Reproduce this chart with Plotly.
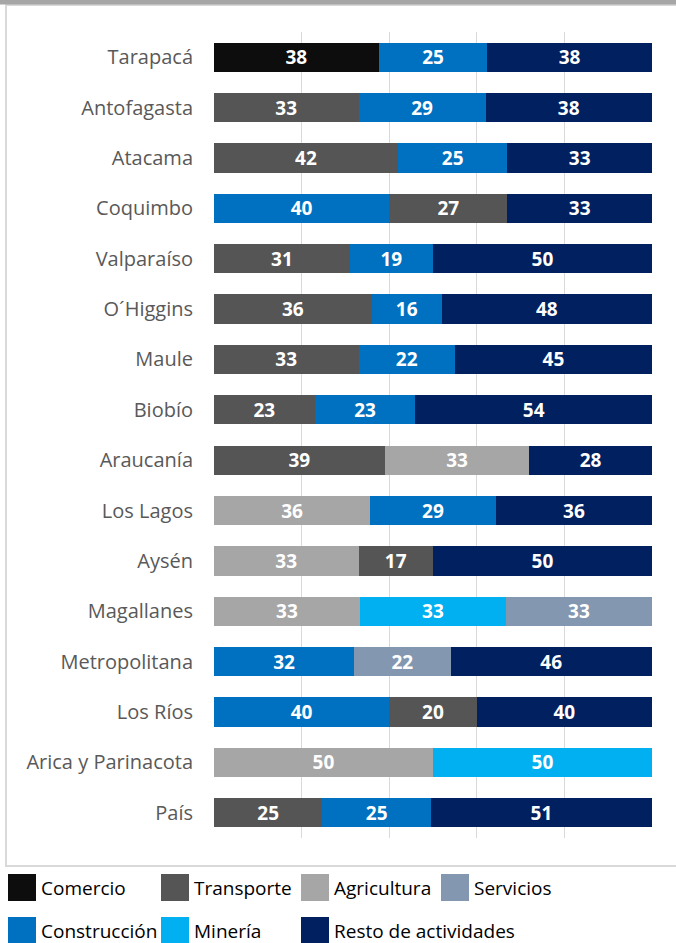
import plotly.graph_objects as go

regions = ["Tarapacá", "Antofagasta", "Atacama", "Coquimbo", "Valparaíso", "O´Higgins",
           "Maule", "Biobío", "Araucanía", "Los Lagos", "Aysén", "Magallanes",
           "Metropolitana", "Los Ríos", "Arica y Parinacota", "País"]

first_cat = ["Comercio", "Transporte", "Transporte", "Construcción", "Transporte", "Transporte",
             "Transporte", "Transporte", "Transporte", "Agricultura", "Agricultura", "Agricultura",
             "Construcción", "Construcción", "Agricultura", "Transporte"]
first_val = [38, 33, 42, 40, 31, 36, 33, 23, 39, 36, 33, 33, 32, 40, 50, 25]

second_cat = ["Construcción", "Construcción", "Construcción", "Transporte", "Construcción", "Construcción",
              "Construcción", "Construcción", "Agricultura", "Construcción", "Transporte", "Minería",
              "Servicios", "Transporte", "Minería", "Construcción"]
second_val = [25, 29, 25, 27, 19, 16, 22, 23, 33, 29, 17, 33, 22, 20, 50, 25]

third_cat = ["Resto de actividades"] * 11 + ["Servicios"] + ["Resto de actividades"] * 2 + [None, "Resto de actividades"]
third_val = [38, 38, 33, 33, 50, 48, 45, 54, 28, 36, 50, 33, 46, 40, None, 51]

legend_order = ["Comercio", "Transporte", "Agricultura", "Servicios",
                "Construcción", "Minería", "Resto de actividades"]
colors = {
    "Comercio": "#0d0d0d",
    "Transporte": "#555555",
    "Agricultura": "#a6a6a6",
    "Servicios": "#8497b0",
    "Construcción": "#0070c0",
    "Minería": "#00b0f0",
    "Resto de actividades": "#002060",
}

W, H = 676, 943
L, R, T, B = 214, 24, 32, 105
PW = W - L - R
PH = H - T - B


def px(x):
    return (x - L) / PW


def py(y):
    return (H - B - y) / PH


fig = go.Figure()
for cats, vals in [(first_cat, first_val), (second_cat, second_val), (third_cat, third_val)]:
    for cat in legend_order:
        xs, ys = [], []
        for reg, c, v in zip(regions, cats, vals):
            if c == cat and v is not None:
                xs.append(v)
                ys.append(reg)
        if not xs:
            continue
        fig.add_trace(go.Bar(
            x=xs, y=ys, orientation="h", name=cat,
            marker=dict(color=colors[cat], line=dict(width=0)),
            text=[str(v) for v in xs], texttemplate="%{text}",
            textposition="inside", insidetextanchor="middle", textangle=0,
            constraintext="none",
            textfont=dict(family="Open Sans", size=19, color="white", weight="bold"),
            showlegend=False, hoverinfo="skip",
        ))

fig.update_layout(
    width=W, height=H,
    margin=dict(l=L, r=R, t=T, b=B),
    barmode="stack", barnorm="percent", bargap=0.42,
    plot_bgcolor="white", paper_bgcolor="white",
    font=dict(family="Open Sans", color="#595959"),
    xaxis=dict(range=[0, 100], dtick=20, showgrid=True, gridcolor="#d9d9d9", gridwidth=1,
               showticklabels=False, zeroline=False, showline=False, fixedrange=True),
    yaxis=dict(categoryorder="array", categoryarray=regions, autorange="reversed",
               showgrid=False, zeroline=False, showline=False, ticks="",
               tickfont=dict(family="Open Sans", size=20, color="#595959"),
               ticklabelstandoff=20),
)

shapes = []
annotations = []
# outer frame and top band
shapes.append(dict(type="rect", xref="paper", yref="paper", x0=px(6), x1=px(W + 10),
                   y0=py(866), y1=py(5), line=dict(color="#d9d9d9", width=2), fillcolor="rgba(0,0,0,0)", layer="below"))
shapes.append(dict(type="rect", xref="paper", yref="paper", x0=px(-5), x1=px(W + 5),
                   y0=py(4.5), y1=py(-5), line=dict(width=0), fillcolor="#a6a6a6"))

# legend
legend_pos = {
    "Comercio": (8, 874), "Transporte": (161, 874), "Agricultura": (301, 874), "Servicios": (441, 874),
    "Construcción": (8, 917), "Minería": (161, 917), "Resto de actividades": (301, 917),
}
for cat in legend_order:
    lx, ly = legend_pos[cat]
    shapes.append(dict(type="rect", xref="paper", yref="paper", x0=px(lx), x1=px(lx + 28),
                       y0=py(ly + 27), y1=py(ly), line=dict(width=0), fillcolor=colors[cat]))
    annotations.append(dict(xref="paper", yref="paper", x=px(lx + 31), y=py(ly + 14),
                            text=cat, showarrow=False, xanchor="left", yanchor="middle",
                            font=dict(family="Open Sans", size=19, color="#000000")))

fig.update_layout(shapes=shapes, annotations=annotations)
fig.write_html("out.html", config={"displayModeBar": False},
               post_script="document.body.style.margin='0';document.body.style.overflow='hidden';")
